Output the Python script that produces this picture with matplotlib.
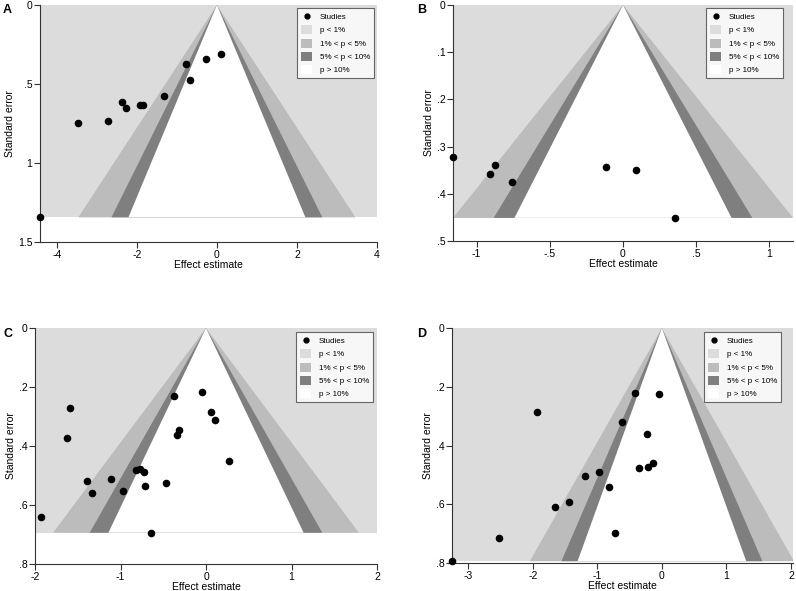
import matplotlib
matplotlib.use('Agg')
import matplotlib.pyplot as plt
import matplotlib.patches as patches
from matplotlib.lines import Line2D

plt.rcParams['font.family'] = ['Liberation Sans', 'DejaVu Sans']

# panel A
a_x = [-4.42, -3.47, -2.72, -2.38, -2.28, -1.91, -1.85, -1.32, -0.77, -0.68, -0.27, 0.09]
a_se = [1.344, 0.746, 0.737, 0.611, 0.655, 0.634, 0.630, 0.575, 0.373, 0.472, 0.343, 0.312]
a_xticks = [-4, -2, 0, 2, 4]
a_xlabels = ['-4', '-2', '0', '2', '4']
a_yticks = [0, 0.5, 1, 1.5]
a_ylabels = ['0', '.5', '1', '1.5']

# panel B
b_x = [-1.159, -0.911, -0.877, -0.761, -0.116, 0.091, 0.357]
b_se = [0.323, 0.357, 0.339, 0.374, 0.344, 0.350, 0.451]
b_xticks = [-1, -0.5, 0, 0.5, 1]
b_xlabels = ['-1', '-.5', '0', '.5', '1']
b_yticks = [0, 0.1, 0.2, 0.3, 0.4, 0.5]
b_ylabels = ['0', '.1', '.2', '.3', '.4', '.5']

# panel C
c_x = [-1.93, -1.594, -1.621, -1.391, -1.328, -1.113, -0.969, -0.824, -0.773, -0.727,
       -0.715, -0.645, -0.469, -0.371, -0.340, -0.312, -0.051, 0.062, 0.105, 0.266]
c_se = [0.642, 0.271, 0.374, 0.518, 0.560, 0.512, 0.551, 0.480, 0.478, 0.489,
        0.537, 0.694, 0.527, 0.231, 0.363, 0.346, 0.218, 0.284, 0.313, 0.450]
c_xticks = [-2, -1, 0, 1, 2]
c_xlabels = ['-2', '-1', '0', '1', '2']
c_yticks = [0, 0.2, 0.4, 0.6, 0.8]
c_ylabels = ['0', '.2', '.4', '.6', '.8']

# panel D
d_x = [-3.247, -2.515, -1.938, -1.655, -1.443, -1.196, -0.974, -0.814, -0.732, -0.619,
       -0.418, -0.351, -0.227, -0.216, -0.134, -0.046]
d_se = [0.794, 0.716, 0.287, 0.611, 0.591, 0.504, 0.489, 0.542, 0.699, 0.320,
        0.221, 0.476, 0.360, 0.473, 0.461, 0.224]
d_xticks = [-3, -2, -1, 0, 1, 2]
d_xlabels = ['-3', '-2', '-1', '0', '1', '2']
d_yticks = [0, 0.2, 0.4, 0.6, 0.8]
d_ylabels = ['0', '.2', '.4', '.6', '.8']

legend_labels = ['Studies', 'p < 1%', '1% < p < 5%', '5% < p < 10%', 'p > 10%']
z_levels = [2.576, 1.96, 1.645]
shades = ['#dcdcdc', '#bcbcbc', '#7f7f7f', 'white']

W, H = 796, 591
fig = plt.figure(figsize=(W / 100, H / 100), dpi=100)


def funnel(box, xs, ses, xlim, ylim, xticks, xlabels, yticks, ylabels, letter, leg_xy, letter_xy):
    l, t, r, b = box
    ax = fig.add_axes([l / W, 1 - b / H, (r - l) / W, (b - t) / H])
    maxse = max(ses)
    ax.add_patch(patches.Rectangle((xlim[0], 0), xlim[1] - xlim[0], maxse,
                                   facecolor=shades[0], edgecolor='none', zorder=1))
    for z, col in zip(z_levels, shades[1:]):
        w = z * maxse
        p = patches.Polygon([[0, 0], [-w, maxse], [w, maxse]], closed=True,
                            facecolor=col, edgecolor='none', zorder=1)
        ax.add_patch(p)
    ax.scatter(xs, ses, s=20, color='black', zorder=3, clip_on=False)
    ax.set_xlim(xlim)
    ax.set_ylim(ylim)
    ax.set_xticks(xticks)
    ax.set_xticklabels(xlabels)
    ax.set_yticks(yticks)
    ax.set_yticklabels(ylabels)
    for s in ('top', 'right'):
        ax.spines[s].set_visible(False)
    for s in ('left', 'bottom'):
        ax.spines[s].set_color('#333333')
        ax.spines[s].set_linewidth(0.8)
    ax.tick_params(length=4, width=0.8, color='#333333', labelsize=7.5, pad=1.5)
    ax.set_xlabel('Effect estimate', fontsize=7.5, labelpad=0)
    ax.set_ylabel('Standard error', fontsize=7.5, labelpad=2)

    handles = [Line2D([], [], marker='o', color='black', linestyle='none', markersize=3.5)]
    for col in shades:
        handles.append(patches.Patch(facecolor=col, edgecolor='none'))
    leg = ax.legend(handles, legend_labels, loc='upper right',
                    bbox_to_anchor=(leg_xy[0] / W, 1 - leg_xy[1] / H),
                    bbox_transform=fig.transFigure, borderaxespad=0,
                    fontsize=5.8, frameon=True, fancybox=False,
                    handlelength=1.4, handleheight=1.35, labelspacing=0.5,
                    handletextpad=0.9, borderpad=0.5)
    leg.get_frame().set_edgecolor('#444444')
    leg.get_frame().set_linewidth(0.8)
    leg.set_zorder(5)
    fig.text(letter_xy[0] / W, 1 - letter_xy[1] / H, letter, fontsize=9,
             fontweight='bold', ha='left', va='center')
    return ax


funnel((40, 5, 377, 242), a_x, a_se, (-4.42, 4), (1.5, 0), a_xticks, a_xlabels,
       a_yticks, a_ylabels, 'A', (374, 8), (3, 10))
funnel((453, 5, 793, 241), b_x, b_se, (-1.162, 1.162), (0.5, 0), b_xticks, b_xlabels,
       b_yticks, b_ylabels, 'B', (783, 8), (417, 10))
funnel((35, 328, 377, 564), c_x, c_se, (-2, 2), (0.8, 0), c_xticks, c_xlabels,
       c_yticks, c_ylabels, 'C', (373, 332), (3, 334))
funnel((452, 328, 793, 563), d_x, d_se, (-3.25, 2.03), (0.8, 0), d_xticks, d_xlabels,
       d_yticks, d_ylabels, 'D', (781, 332), (417, 334))

fig.savefig('out.png', dpi=100)
